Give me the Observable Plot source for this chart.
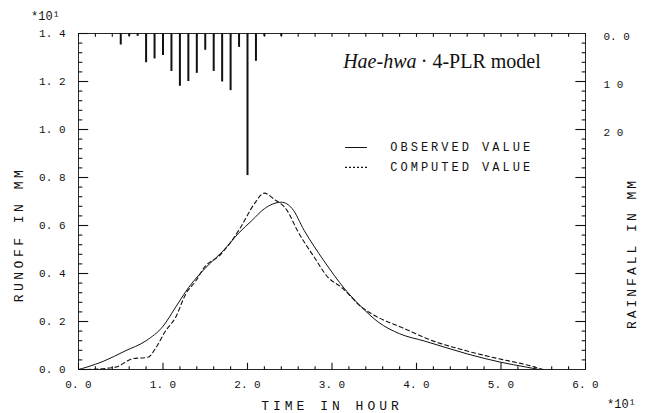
<!DOCTYPE html>
<html>
<head>
<meta charset="utf-8">
<script src="https://cdn.jsdelivr.net/npm/d3@7"></script>
<script src="https://cdn.jsdelivr.net/npm/@observablehq/plot@0.6"></script>
<style>
  body { margin: 0; background: #fff; }
  svg { display: block; }
</style>
</head>
<body>
<div id="chart"></div>
<script>
// ---- Data ----
// Observed runoff hydrograph (time in hours, runoff in mm ×10)
const obsTime   = [0, 1, 3, 5.5, 8, 10, 11.5, 13, 15.5, 17, 19, 20.5, 22, 24, 25.3, 26.7, 29, 31.5, 33.5, 35.5, 38, 41, 46, 50, 53, 54.5];
const obsRunoff = [0, 0.01, 0.035, 0.077, 0.12, 0.18, 0.26, 0.34, 0.44, 0.49, 0.57, 0.62, 0.67, 0.697, 0.67, 0.58, 0.455, 0.336, 0.26, 0.197, 0.149, 0.118, 0.065, 0.03, 0.01, 0];

// Computed runoff (4-PLR model)
const comTime   = [1, 4.4, 6.4, 8.2, 9.2, 10.2, 11.5, 12.7, 13.9, 14.9, 16.7, 18, 19.2, 20.8, 22, 23.1, 24.7, 25.9, 27.9, 29.5, 31.1, 33.5, 35.4, 38.2, 41.8, 45.8, 49.7, 52.5, 55];
const comRunoff = [0, 0.01, 0.045, 0.051, 0.093, 0.155, 0.218, 0.315, 0.37, 0.426, 0.475, 0.53, 0.593, 0.69, 0.735, 0.711, 0.662, 0.579, 0.468, 0.385, 0.343, 0.26, 0.218, 0.176, 0.121, 0.079, 0.045, 0.024, 0];

// Hourly rainfall (mm), hanging from the top axis
const rainTime  = [5, 6, 7, 8, 9, 10, 11, 12, 13, 14, 15, 16, 17, 18, 19, 20, 21, 22, 24];
const rainDepth = [2.4, 0.6, 0.6, 6.1, 5.3, 4.6, 7.9, 11.0, 10.0, 8.3, 3.5, 7.9, 10.1, 11.9, 2.9, 29.6, 5.8, 0.6, 0.6];

// Tick values and labels
const xTicks       = [0, 10, 20, 30, 40, 50, 60];
const xTickLabels  = ["0. 0", "1. 0", "2. 0", "3. 0", "4. 0", "5. 0", "6. 0"];
const yTicks       = [0, 0.2, 0.4, 0.6, 0.8, 1.0, 1.2, 1.4];
const yTickLabels  = ["0. 0", "0. 2", "0. 4", "0. 6", "0. 8", "1. 0", "1. 2", "1. 4"];
const rainTicks      = [0, 10, 20];
const rainTickLabels = ["0. 0", "1 0", "2 0"];

const legendLabels = ["OBSERVED VALUE", "COMPUTED VALUE"];
const titleItalic = "Hae-hwa";
const titleRest = "· 4-PLR model";

// ---- Helpers ----
const RAIN_MAX = 70;                 // rainfall axis spans 0..70 mm top->bottom
const Y_MAX = 1.4;
const rainToY = mm => Y_MAX - mm * (Y_MAX / RAIN_MAX);
const mono = "'Liberation Mono', 'DejaVu Sans Mono', monospace";
const serif = "'Liberation Serif', 'DejaVu Serif', serif";
const ink = "#111";

const obs = obsTime.map((t, i) => ({t, q: obsRunoff[i]}));
const com = comTime.map((t, i) => ({t, q: comRunoff[i]}));
const rain = rainTime.map((t, i) => ({t, mm: rainDepth[i]}));

const xMinor = d3.range(0, 61, 2).filter(d => d % 10 !== 0);
const yMinor = d3.range(0, 1.401, 0.04).filter(d => Math.abs(d / 0.2 - Math.round(d / 0.2)) > 1e-6);
const rainMajor = d3.range(10, 70, 10);
const rainMinor = d3.range(2, 70, 2).filter(d => d % 10 !== 0);

// tick segments (positions come from the scales)
const seg = [];
xTicks.forEach(x => seg.push({x1: x, x2: x, y1: 0, y2: 0.028}));
xMinor.forEach(x => seg.push({x1: x, x2: x, y1: 0, y2: 0.014}));
xTicks.concat(xMinor).forEach(x => seg.push({x1: x, x2: x, y1: Y_MAX, y2: Y_MAX - 0.014}));
yTicks.forEach(y => seg.push({x1: 0, x2: 1.15, y1: y, y2: y}));
yMinor.forEach(y => seg.push({x1: 0, x2: 0.45, y1: y, y2: y}));
rainMajor.forEach(mm => seg.push({x1: 60, x2: 58.8, y1: rainToY(mm), y2: rainToY(mm)}));
rainMinor.forEach(mm => seg.push({x1: 60, x2: 59.55, y1: rainToY(mm), y2: rainToY(mm)}));

const legendY = [0.925, 0.842];

const chart = Plot.plot({
  width: 650,
  height: 413,
  marginLeft: 78,
  marginRight: 65,
  marginTop: 33,
  marginBottom: 44,
  x: {domain: [0, 60], axis: null},
  y: {domain: [0, Y_MAX], axis: null},
  style: {fontFamily: mono, fontSize: "11px", background: "#fff", color: ink},
  marks: [
    Plot.frame({stroke: ink, strokeWidth: 0.9}),

    // axis ticks (all inward)
    Plot.link(seg, {x1: "x1", x2: "x2", y1: "y1", y2: "y2", stroke: ink, strokeWidth: 1.1}),

    // rainfall hyetograph
    Plot.ruleX(rain, {x: "t", y1: Y_MAX, y2: d => rainToY(d.mm), stroke: ink, strokeWidth: 2}),

    // hydrographs
    Plot.line(obs, {x: "t", y: "q", curve: "monotone-x", stroke: ink, strokeWidth: 1}),
    Plot.line(com, {x: "t", y: "q", curve: "monotone-x", stroke: ink, strokeWidth: 1.1, strokeDasharray: "4,3"}),

    // tick labels
    Plot.text(xTicks, {x: d => d, y: 0, text: (d, i) => xTickLabels[i], dy: 15, fill: ink}),
    Plot.text(yTicks, {x: 0, y: d => d, text: (d, i) => yTickLabels[i], textAnchor: "end", dx: -13, fill: ink}),
    Plot.text(rainTicks, {x: 60, y: d => rainToY(d), text: (d, i) => rainTickLabels[i], textAnchor: "start", dx: 18, dy: 3, fill: ink}),

    // exponent markers
    Plot.text(["*10¹"], {frameAnchor: "top-left", lineAnchor: "middle", textAnchor: "middle", dx: -33, dy: -17, fontSize: 12, fill: ink}),
    Plot.text(["*10¹"], {frameAnchor: "bottom-right", lineAnchor: "middle", textAnchor: "middle", dx: 36, dy: 35, fontSize: 12, fill: ink}),

    // axis titles
    Plot.text(["TIME IN HOUR"], {frameAnchor: "bottom", lineAnchor: "middle", textAnchor: "middle", dy: 36, fontSize: 13, fill: ink}),
    Plot.text(["RUNOFF IN MM"], {frameAnchor: "left", lineAnchor: "middle", textAnchor: "middle", dx: -60, dy: 33, rotate: -90, fontSize: 13, fill: ink}),
    Plot.text(["RAINFALL IN MM"], {frameAnchor: "right", lineAnchor: "middle", textAnchor: "middle", dx: 46, dy: 52, rotate: -90, fontSize: 13, fill: ink}),

    // title
    Plot.text([titleItalic], {x: 40, y: 1.258, textAnchor: "end", lineAnchor: "bottom", fontFamily: serif, fontStyle: "italic", fontSize: 20, fill: ink}),
    Plot.text([titleRest], {x: 40.5, y: 1.258, textAnchor: "start", lineAnchor: "bottom", fontFamily: serif, fontSize: 20, fill: ink}),

    // legend
    Plot.ruleY([legendY[0]], {y: d => d, x1: 31.6, x2: 34.2, stroke: ink, strokeWidth: 1}),
    Plot.ruleY([legendY[1]], {y: d => d, x1: 31.6, x2: 34.2, stroke: ink, strokeWidth: 1.1, strokeDasharray: "2,2"}),
    Plot.text(legendLabels, {x: 36.9, y: (d, i) => legendY[i], text: d => d, textAnchor: "start", fontSize: 12, fill: ink})
  ]
});

// letter spacing for the plotter-style titles
const spacing = {"TIME IN HOUR": 4, "RUNOFF IN MM": 3.5, "RAINFALL IN MM": 3, "OBSERVED VALUE": 3, "COMPUTED VALUE": 3};
d3.select(chart).selectAll("text").each(function () {
  const s = spacing[this.textContent];
  if (s) this.setAttribute("letter-spacing", s);
});

document.getElementById("chart").appendChild(chart);
</script>
</body>
</html>
